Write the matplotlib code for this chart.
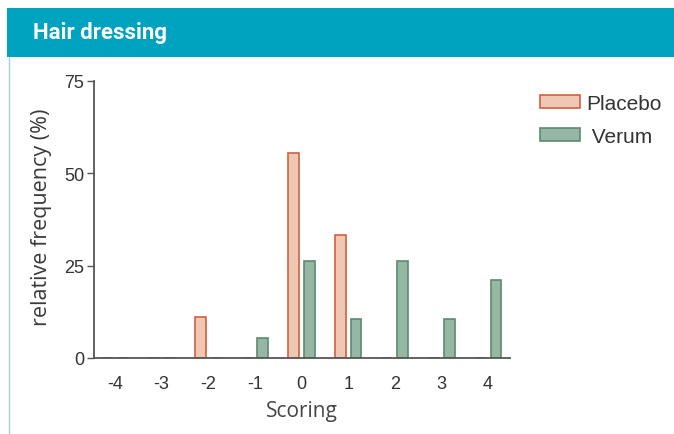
"""
Hair dressing scoring: relative frequency for Placebo vs Verum
"""

import matplotlib
matplotlib.use("Agg")
import matplotlib.pyplot as plt
from matplotlib.patches import Rectangle
from matplotlib.lines import Line2D
import numpy as np

# Data
scores = [-4, -3, -2, -1, 0, 1, 2, 3, 4]
placebo = [0, 0, 11.1, 0, 55.6, 33.3, 0, 0, 0]
verum = [0, 0, 0, 5.3, 26.3, 10.5, 26.3, 10.5, 21.1]
series_names = ["Placebo", " Verum"]

placebo_face, placebo_edge = "#EEC8B5", "#D2603F"
verum_face, verum_edge = "#96B7A3", "#5C8A70"

fig = plt.figure(figsize=(6.74, 4.35), dpi=100)

# Header band
fig.patches.append(Rectangle((7 / 674, 1 - 58 / 435), 1, 49 / 435,
                             transform=fig.transFigure, facecolor="#00A3BF",
                             edgecolor="none", zorder=0))
fig.lines.append(Line2D([8.5 / 674, 8.5 / 674], [0, 1 - 58 / 435],
                        transform=fig.transFigure, color="#9ED3DF", linewidth=1))
fig.text(33 / 674, 1 - 33 / 435, "Hair dressing", color="white",
         fontsize=16, fontweight="bold", family="Roboto", va="center", ha="left")

ax = fig.add_axes([94 / 674, 1 - 359 / 435, (510 - 94) / 674, (359 - 82) / 435])

x = np.array(scores)
offset = 0.17
width = 0.23
ax.bar(x - offset, placebo, width, color=placebo_face, edgecolor=placebo_edge,
       linewidth=1.2, label=series_names[0])
ax.bar(x + offset, verum, width, color=verum_face, edgecolor=verum_edge,
       linewidth=1.2, label=series_names[1])

ax.set_xlim(-4.45, 4.47)
ax.set_ylim(0, 75)
ax.set_yticks([0, 25, 50, 75])
ax.set_xticks(scores)
ax.set_xticklabels([str(s) for s in scores])

for side in ["top", "right"]:
    ax.spines[side].set_visible(False)
for side in ["left", "bottom"]:
    ax.spines[side].set_color("#555555")
    ax.spines[side].set_linewidth(1.3)

ax.tick_params(axis="y", length=5, width=1, color="#555555", labelsize=13,
               labelcolor="#333333", pad=2)
ax.tick_params(axis="x", length=0, labelsize=13, labelcolor="#333333", pad=12)
for lab in ax.get_xticklabels() + ax.get_yticklabels():
    lab.set_family("Liberation Sans")

ax.set_ylabel("relative frequency (%)", fontsize=15.5, color="#3a3a3a",
              family="Open Sans")
ax.yaxis.set_label_coords(-0.10, 0.51)
ax.set_xlabel("Scoring", fontsize=15, color="#444444", family="Open Sans",
              labelpad=6)

leg = fig.legend(*ax.get_legend_handles_labels(), loc="upper left",
                 bbox_to_anchor=(540 / 674, 1 - 95 / 435), frameon=False,
                 borderaxespad=0, borderpad=0,
                 prop={"family": "Liberation Sans", "size": 15},
                 handlelength=1.9, handleheight=0.6, labelspacing=0.65,
                 handletextpad=0.3)
for t in leg.get_texts():
    t.set_color("#333333")

plt.savefig("out.png", dpi=100)
